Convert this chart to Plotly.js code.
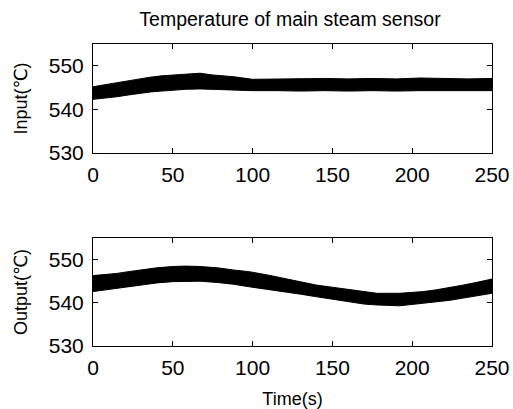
<!DOCTYPE html>
<html>
<head>
<meta charset="utf-8">
<script src="https://cdn.plot.ly/plotly-3.0.1.min.js"></script>
<style>html,body{margin:0;padding:0;background:#fff;}#chart{width:513px;height:409px;}</style>
</head>
<body>
<div id="chart"></div>
<script>
// Time samples (s) at which the envelope of the noisy band was read
var timeIn = [0, 8, 15, 22, 29, 36, 43, 50, 58, 67, 75, 88, 100, 115, 130, 145, 160, 175, 190, 205, 220, 235, 250];
// Input sensor: upper / lower edge of the noisy band (°C)
var inputUpper = [545.2, 545.7, 546.1, 546.5, 547.0, 547.4, 547.7, 547.9, 548.1, 548.3, 547.9, 547.5, 546.9, 547.0, 547.0, 547.1, 547.0, 547.1, 547.0, 547.2, 547.1, 547.0, 547.1];
var inputLower = [542.3, 542.6, 542.9, 543.3, 543.7, 544.0, 544.2, 544.4, 544.6, 544.7, 544.6, 544.4, 544.3, 544.3, 544.2, 544.3, 544.2, 544.3, 544.2, 544.3, 544.3, 544.2, 544.3];

var timeOut = [0, 8, 15, 22, 29, 40, 50, 58, 67, 78, 88, 98, 110, 119, 130, 140, 150, 161, 170, 178, 192, 207, 215, 224, 232, 240, 245, 250];
// Output sensor: upper / lower edge of the noisy band (°C)
var outputUpper = [546.3, 546.5, 546.8, 547.2, 547.6, 548.1, 548.4, 548.5, 548.4, 548.1, 547.6, 547.2, 546.4, 545.7, 544.9, 544.1, 543.6, 543.0, 542.5, 542.2, 542.2, 542.6, 543.0, 543.5, 544.1, 544.7, 545.1, 545.5];
var outputLower = [542.6, 543.0, 543.4, 543.8, 544.1, 544.6, 544.9, 545.0, 545.0, 544.7, 544.3, 543.7, 543.1, 542.6, 542.0, 541.4, 540.8, 540.1, 539.7, 539.5, 539.3, 539.9, 540.2, 540.6, 541.1, 541.6, 541.9, 542.2];

var yTicks = [530, 540, 550];
var xTicks = [0, 50, 100, 150, 200, 250];

var traces = [
  {x: timeIn, y: inputLower, type: 'scatter', mode: 'lines', line: {color: '#000', width: 1}, xaxis: 'x', yaxis: 'y', hoverinfo: 'skip'},
  {x: timeIn, y: inputUpper, type: 'scatter', mode: 'lines', fill: 'tonexty', fillcolor: '#000', line: {color: '#000', width: 1}, xaxis: 'x', yaxis: 'y', name: 'Input'},
  {x: timeOut, y: outputLower, type: 'scatter', mode: 'lines', line: {color: '#000', width: 1}, xaxis: 'x2', yaxis: 'y2', hoverinfo: 'skip'},
  {x: timeOut, y: outputUpper, type: 'scatter', mode: 'lines', fill: 'tonexty', fillcolor: '#000', line: {color: '#000', width: 1}, xaxis: 'x2', yaxis: 'y2', name: 'Output'}
];

var tickFont = {family: 'Liberation Sans, Arial, sans-serif', size: 21, color: '#000'};
var labFont = {family: 'Liberation Sans, Arial, DejaVu Sans, sans-serif', size: 18, color: '#000'};

function xax(anchor, title) {
  var a = {
    domain: [93/513, 492/513], anchor: anchor, range: [0, 250], tickvals: xTicks,
    ticktext: xTicks.map(String), ticks: 'inside', ticklen: 5, tickcolor: '#000',
    showline: true, linecolor: '#000', linewidth: 1, mirror: 'ticks', showgrid: false, zeroline: false,
    tickfont: tickFont, ticklabelstandoff: 3
  };
  if (title) { a.title = {text: title, font: labFont, standoff: 14}; }
  return a;
}
function yax(domain, anchor, title) {
  return {
    domain: domain, anchor: anchor, range: [530, 555], tickvals: yTicks,
    ticktext: yTicks.map(String), ticks: 'inside', ticklen: 5, tickcolor: '#000',
    showline: true, linecolor: '#000', linewidth: 1, mirror: 'ticks', showgrid: false, zeroline: false,
    tickfont: tickFont, ticklabelstandoff: 4,
    title: {text: title, font: labFont, standoff: 16}
  };
}

var layout = {
  width: 513, height: 409,
  margin: {l: 0, r: 0, t: 0, b: 0},
  paper_bgcolor: '#fff', plot_bgcolor: '#fff',
  showlegend: false,
  title: {text: 'Temperature of main steam sensor', font: {family: 'Liberation Sans, Arial, sans-serif', size: 19.5, color: '#000'},
          x: 290/513, xanchor: 'center', y: 1 - 19/409, yanchor: 'middle', xref: 'paper', yref: 'paper'},
  xaxis: xax('y'),
  yaxis: yax([1 - 153/409, 1 - 44/409], 'x', 'Input(℃)'),
  xaxis2: xax('y2', 'Time(s)'),
  yaxis2: yax([1 - 346/409, 1 - 238/409], 'x2', 'Output(℃)')
};

Plotly.newPlot('chart', traces, layout, {displayModeBar: false, staticPlot: true});
</script>
</body>
</html>
